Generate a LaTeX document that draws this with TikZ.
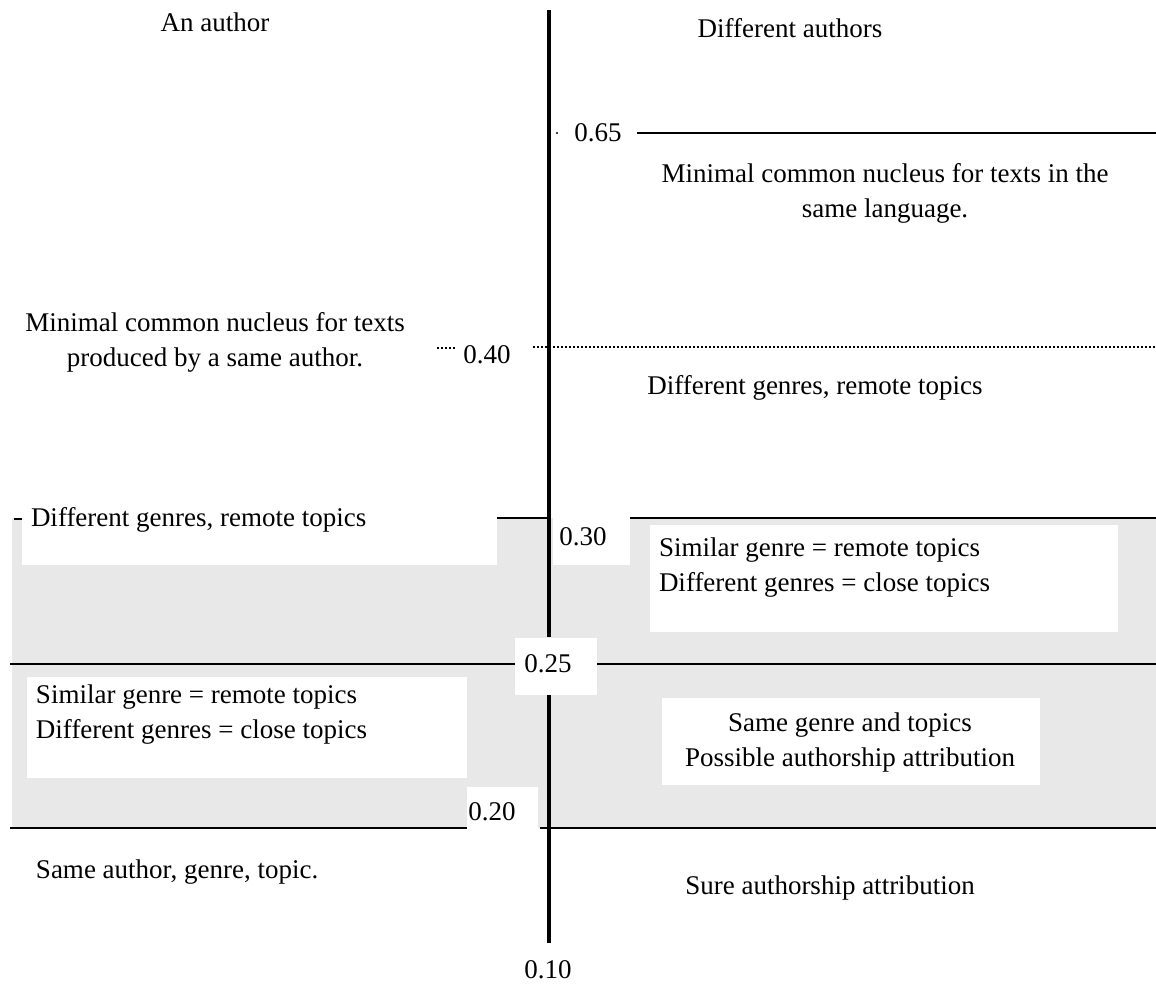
\documentclass[tikz,border=0pt]{standalone}
\usepackage{fontspec}
\setmainfont{Liberation Serif}
\usepackage{tikz}
\usetikzlibrary{positioning,calc}

\begin{document}
\begin{tikzpicture}[x=0.4pt,y=-0.4pt,
  lab/.style={font=\fontsize{10.8}{14}\selectfont,inner sep=1pt},
  blank/.style={fill=white,draw=none},
  level/.style={line width=0.6pt},
  shade/.style={fill=black!9}]
\useasboundingbox (0,0) rectangle (1156,984);
% shaded band between 0.30 and 0.20
\fill[shade] (12,518) rectangle (1156,828);
\fill[blank] (22,518) rectangle (497,565);
\fill[blank] (553,518) rectangle (630,565);
\fill[blank] (650,525) rectangle (1118,632);
\fill[blank] (515,638) rectangle (597,695);
\fill[blank] (27,677) rectangle (467,778);
\fill[blank] (467,787) rectangle (538,828);
\fill[blank] (662,698) rectangle (1040,785);
% axis
\draw[line width=1.6pt] (549,10) -- (549,637);
\draw[line width=1.6pt] (549,695) -- (549,943);
% thresholds
\fill (557,133) circle (1.2);
\draw[level] (637,133) -- (1156,133);
\draw[level,densely dotted] (437,348) -- (457,348);
\draw[level,densely dotted] (533,347) -- (1156,347);
\draw[level] (14,519) -- (22,519);
\draw[level] (497,518) -- (549,518);
\draw[level] (630,518) -- (1156,518);
\draw[level] (10,664) -- (515,664);
\draw[level] (597,664) -- (1156,664);
\draw[level] (10,828) -- (467,828);
\draw[level] (540,828) -- (1156,828);
% labels
\node[lab] (oneauthor) at (215,22) {An author};
\node[lab] (manyauthors) at (790,28) {Different authors};
\node[lab] (v65) at (598,133) {0.65};
\node[lab,align=center] (langnucleus) at (885,193) {Minimal common nucleus for texts in the\\ same language.};
\node[lab,align=center] (authnucleus) at (215,342) {Minimal common nucleus for texts\\ produced by a same author.};
\node[lab] (v40) at (487,355) {0.40};
\node[lab] (rremote) at (815,388) {Different genres, remote topics};
\node[lab,anchor=west] (lremote) at (28,520) {Different genres, remote topics};
\node[lab] (v30) at (583,537) {0.30};
\node[lab,align=left,anchor=west] (rsimilar) at (656,568) {Similar genre = remote topics\\ Different genres = close topics};
\node[lab] (v25) at (548,664) {0.25};
\node[lab,align=left,anchor=west] (lsimilar) at (33,715) {Similar genre = remote topics\\ Different genres = close topics};
\node[lab,align=center] (possible) at (850,743) {Same genre and topics\\ Possible authorship attribution};
\node[lab] (v20) at (492,812) {0.20};
\node[lab,anchor=west] (same) at (33,872) {Same author, genre, topic.};
\node[lab] (sure) at (830,888) {Sure authorship attribution};
\node[lab] (v10) at (548,970) {0.10};
\end{tikzpicture}
\end{document}
